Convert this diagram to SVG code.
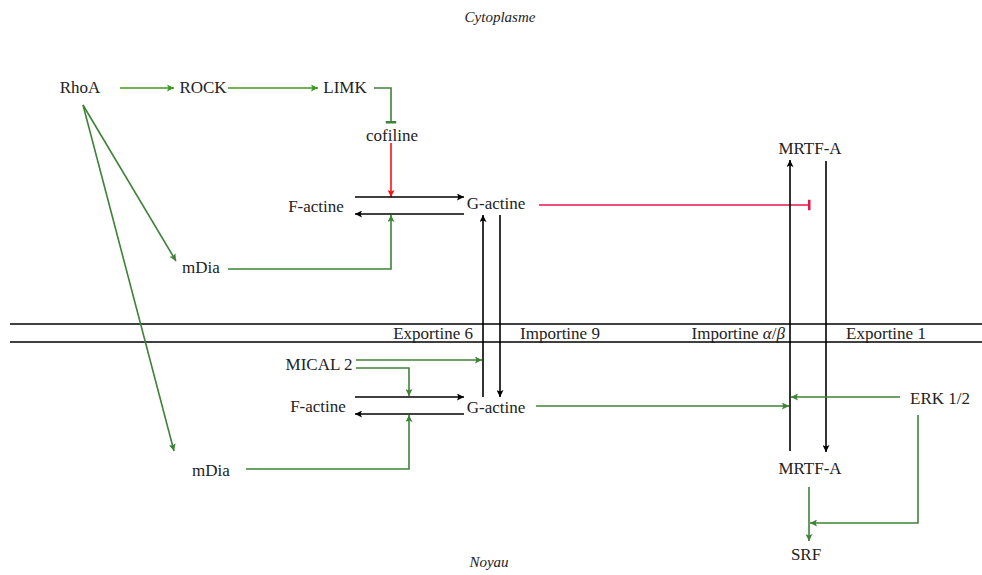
<svg xmlns="http://www.w3.org/2000/svg" width="982" height="575" viewBox="0 0 982 575">
<defs>
<style>
text{font-family:'Liberation Serif','Times New Roman',serif;font-size:17px;fill:#222;text-anchor:middle}
.it{font-style:italic;font-size:15px}
.k{stroke:#000;stroke-width:1.6;fill:none}
.g{stroke:#3d8236;stroke-width:1.6;fill:none}
.gb{stroke:#3f9a1c;stroke-width:1.6;fill:none}
.r{stroke:#ff1010;stroke-width:1.6;fill:none}
.c{stroke:#e8174a;stroke-width:1.6;fill:none}
</style>
<marker id="ak" viewBox="0 0 10 10" refX="10" refY="5" markerWidth="9" markerHeight="7" markerUnits="userSpaceOnUse" orient="auto"><path d="M0,0 L10,5 L0,10 L2,5 Z" fill="#000"/></marker>
<marker id="ag" viewBox="0 0 10 10" refX="10" refY="5" markerWidth="9" markerHeight="7" markerUnits="userSpaceOnUse" orient="auto"><path d="M0,0 L10,5 L0,10 L2,5 Z" fill="#3d8236"/></marker>
<marker id="agb" viewBox="0 0 10 10" refX="10" refY="5" markerWidth="9" markerHeight="7" markerUnits="userSpaceOnUse" orient="auto"><path d="M0,0 L10,5 L0,10 L2,5 Z" fill="#3f9a1c"/></marker>
<marker id="ar" viewBox="0 0 10 10" refX="10" refY="5" markerWidth="9" markerHeight="7" markerUnits="userSpaceOnUse" orient="auto"><path d="M0,0 L10,5 L0,10 L2,5 Z" fill="#ff1010"/></marker>
<marker id="tg" viewBox="0 0 4 14" refX="2" refY="7" markerWidth="3" markerHeight="12" markerUnits="userSpaceOnUse" orient="auto"><path d="M2,0 V14" stroke="#3d8236" stroke-width="4"/></marker>
<marker id="tc" viewBox="0 0 4 14" refX="2" refY="7" markerWidth="3" markerHeight="12" markerUnits="userSpaceOnUse" orient="auto"><path d="M2,0 V14" stroke="#e8174a" stroke-width="4"/></marker>
</defs>
<rect width="982" height="575" fill="#fff"/>

<g id="membrane">
<line x1="10" y1="324" x2="982" y2="324" class="k"/>
<line x1="10" y1="342" x2="982" y2="342" class="k"/>
</g>

<g id="connectors">
<line x1="120" y1="88" x2="174" y2="88" class="gb" marker-end="url(#agb)"/>
<line x1="228" y1="88" x2="318" y2="88" class="gb" marker-end="url(#agb)"/>
<polyline points="374,88 391,88 391,122" class="g" marker-end="url(#tg)"/>
<line x1="391" y1="143" x2="391" y2="197" class="r" marker-end="url(#ar)"/>
<line x1="355" y1="197" x2="464" y2="197" class="k" marker-end="url(#ak)"/>
<line x1="464" y1="214" x2="355" y2="214" class="k" marker-end="url(#ak)"/>
<polyline points="228,269 391,269 391,215" class="g" marker-end="url(#ag)"/>
<line x1="83" y1="105" x2="176" y2="261" class="g" marker-end="url(#ag)"/>
<line x1="83" y1="105" x2="174" y2="451" class="g" marker-end="url(#ag)"/>
<line x1="539" y1="205" x2="809" y2="205" class="c" marker-end="url(#tc)"/>
<line x1="483" y1="397" x2="483" y2="215" class="k" marker-end="url(#ak)"/>
<line x1="500" y1="215" x2="500" y2="397" class="k" marker-end="url(#ak)"/>
<line x1="790" y1="451" x2="790" y2="160" class="k" marker-end="url(#ak)"/>
<line x1="826" y1="161" x2="826" y2="452" class="k" marker-end="url(#ak)"/>
<line x1="356" y1="360" x2="482" y2="360" class="g" marker-end="url(#ag)"/>
<polyline points="356,368 409,368 409,396" class="g" marker-end="url(#ag)"/>
<line x1="355" y1="397" x2="464" y2="397" class="k" marker-end="url(#ak)"/>
<line x1="464" y1="414" x2="355" y2="414" class="k" marker-end="url(#ak)"/>
<polyline points="246,469 409,469 409,415" class="g" marker-end="url(#ag)"/>
<line x1="536" y1="406" x2="789" y2="406" class="g" marker-end="url(#ag)"/>
<line x1="900" y1="397" x2="791" y2="397" class="g" marker-end="url(#ag)"/>
<polyline points="918,415 918,523 810,523" class="g" marker-end="url(#ag)"/>
<line x1="809" y1="487" x2="809" y2="541" class="g" marker-end="url(#ag)"/>
</g>

<g id="cytoplasme"><text x="500" y="22" class="it">Cytoplasme</text></g>
<g id="noyau"><text x="489" y="567" class="it">Noyau</text></g>
<g id="rhoa"><text x="80" y="93">RhoA</text></g>
<g id="rock"><text x="203" y="93">ROCK</text></g>
<g id="limk"><text x="345" y="93">LIMK</text></g>
<g id="cofiline"><text x="392" y="141">cofiline</text></g>
<g id="factine-c"><text x="316" y="212">F-actine</text></g>
<g id="gactine-c"><text x="496" y="209">G-actine</text></g>
<g id="mdia-c"><text x="201" y="273">mDia</text></g>
<g id="mrtfa-c"><text x="810" y="154">MRTF-A</text></g>
<g id="exportine6"><text x="473" y="339" style="text-anchor:end">Exportine 6</text></g>
<g id="importine9"><text x="560" y="339">Importine 9</text></g>
<g id="importine-ab"><text x="785" y="339" style="text-anchor:end">Importine <tspan font-style="italic">α</tspan>/<tspan font-style="italic">β</tspan></text></g>
<g id="exportine1"><text x="886" y="339">Exportine 1</text></g>
<g id="mical2"><text x="319" y="370">MICAL 2</text></g>
<g id="factine-n"><text x="318" y="412">F-actine</text></g>
<g id="gactine-n"><text x="496" y="413">G-actine</text></g>
<g id="mdia-n"><text x="211" y="476">mDia</text></g>
<g id="erk"><text x="940" y="404">ERK 1/2</text></g>
<g id="mrtfa-n"><text x="810" y="474">MRTF-A</text></g>
<g id="srf"><text x="806" y="560">SRF</text></g>
</svg>
